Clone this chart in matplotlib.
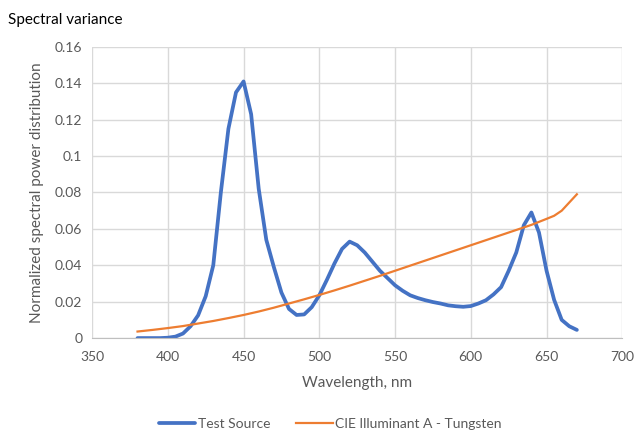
import matplotlib.pyplot as plt
import numpy as np

wavelength_test = np.arange(380, 671, 5)
test_source = [
    0.0, 0.0, 0.0, 0.0, 0.0002, 0.0008, 0.0025, 0.0065, 0.0125, 0.023,
    0.040, 0.080, 0.115, 0.135, 0.141, 0.123, 0.082, 0.054, 0.039, 0.025,
    0.016, 0.0127, 0.013, 0.017, 0.0235, 0.032, 0.041, 0.049, 0.053, 0.051,
    0.047, 0.042, 0.037, 0.033, 0.029, 0.026, 0.0235, 0.022, 0.0208, 0.0198,
    0.019, 0.018, 0.0175, 0.0172, 0.0176, 0.019, 0.0208, 0.024, 0.028, 0.037,
    0.047, 0.062, 0.069, 0.058, 0.037, 0.021, 0.010, 0.0065, 0.0045,
]

wavelength_cie = [380, 390, 400, 410, 420, 430, 440, 450, 460, 470, 480, 490,
                  500, 510, 520, 530, 540, 550, 560, 570, 580, 590, 600, 610,
                  620, 630, 640, 650, 655, 660, 665, 670]
cie_a = [0.0036, 0.0045, 0.0055, 0.0066, 0.0080, 0.0094, 0.0110, 0.0127,
         0.0146, 0.0167, 0.0190, 0.0213, 0.0237, 0.0262, 0.0288, 0.0315,
         0.0342, 0.0370, 0.0398, 0.0426, 0.0454, 0.0482, 0.0510, 0.0538,
         0.0566, 0.0594, 0.0622, 0.0655, 0.0672, 0.0700, 0.0745, 0.0790]

plt.rcParams["font.family"] = ["Lato", "DejaVu Sans"]
text_gray = "#595959"

fig = plt.figure(figsize=(6.35, 4.34), dpi=100)
ax = fig.add_axes([0.145, 0.221, 0.835, 0.671])

ax.plot(wavelength_test, test_source, color="#4472C4", linewidth=2.7,
        solid_capstyle="round", solid_joinstyle="round", label="Test Source")
ax.plot(wavelength_cie, cie_a, color="#ED7D31", linewidth=1.6,
        solid_joinstyle="round", label="CIE Illuminant A - Tungsten")

ax.set_xlim(350, 700)
ax.set_ylim(0, 0.16)
ax.set_xticks(np.arange(350, 701, 50))
ax.set_yticks(np.arange(0, 0.161, 0.02))
ax.set_yticklabels(["0", "0.02", "0.04", "0.06", "0.08", "0.1", "0.12", "0.14", "0.16"])
ax.grid(True, color="#D9D9D9", linewidth=1.0)
ax.set_axisbelow(True)
for side in ["top", "right", "left"]:
    ax.spines[side].set_visible(False)
ax.spines["bottom"].set_color("#BFBFBF")
ax.tick_params(length=0, colors=text_gray, labelsize=10)
ax.tick_params(axis="x", pad=9)
ax.tick_params(axis="y", pad=7)

ax.set_xlabel("Wavelength, nm", color=text_gray, fontsize=11, labelpad=10)
ax.set_ylabel("Normalized spectral power distribution", color=text_gray,
              fontsize=11, labelpad=8)

fig.text(0.013, 0.955, "Spectral variance", fontsize=11, color="black", va="center")

leg = fig.legend(loc="lower center", bbox_to_anchor=(0.52, -0.02), ncol=2,
                 frameon=False, fontsize=10, handlelength=2.6,
                 handletextpad=0.15, columnspacing=1.9)
for text in leg.get_texts():
    text.set_color(text_gray)

fig.savefig("out.png", dpi=100)
